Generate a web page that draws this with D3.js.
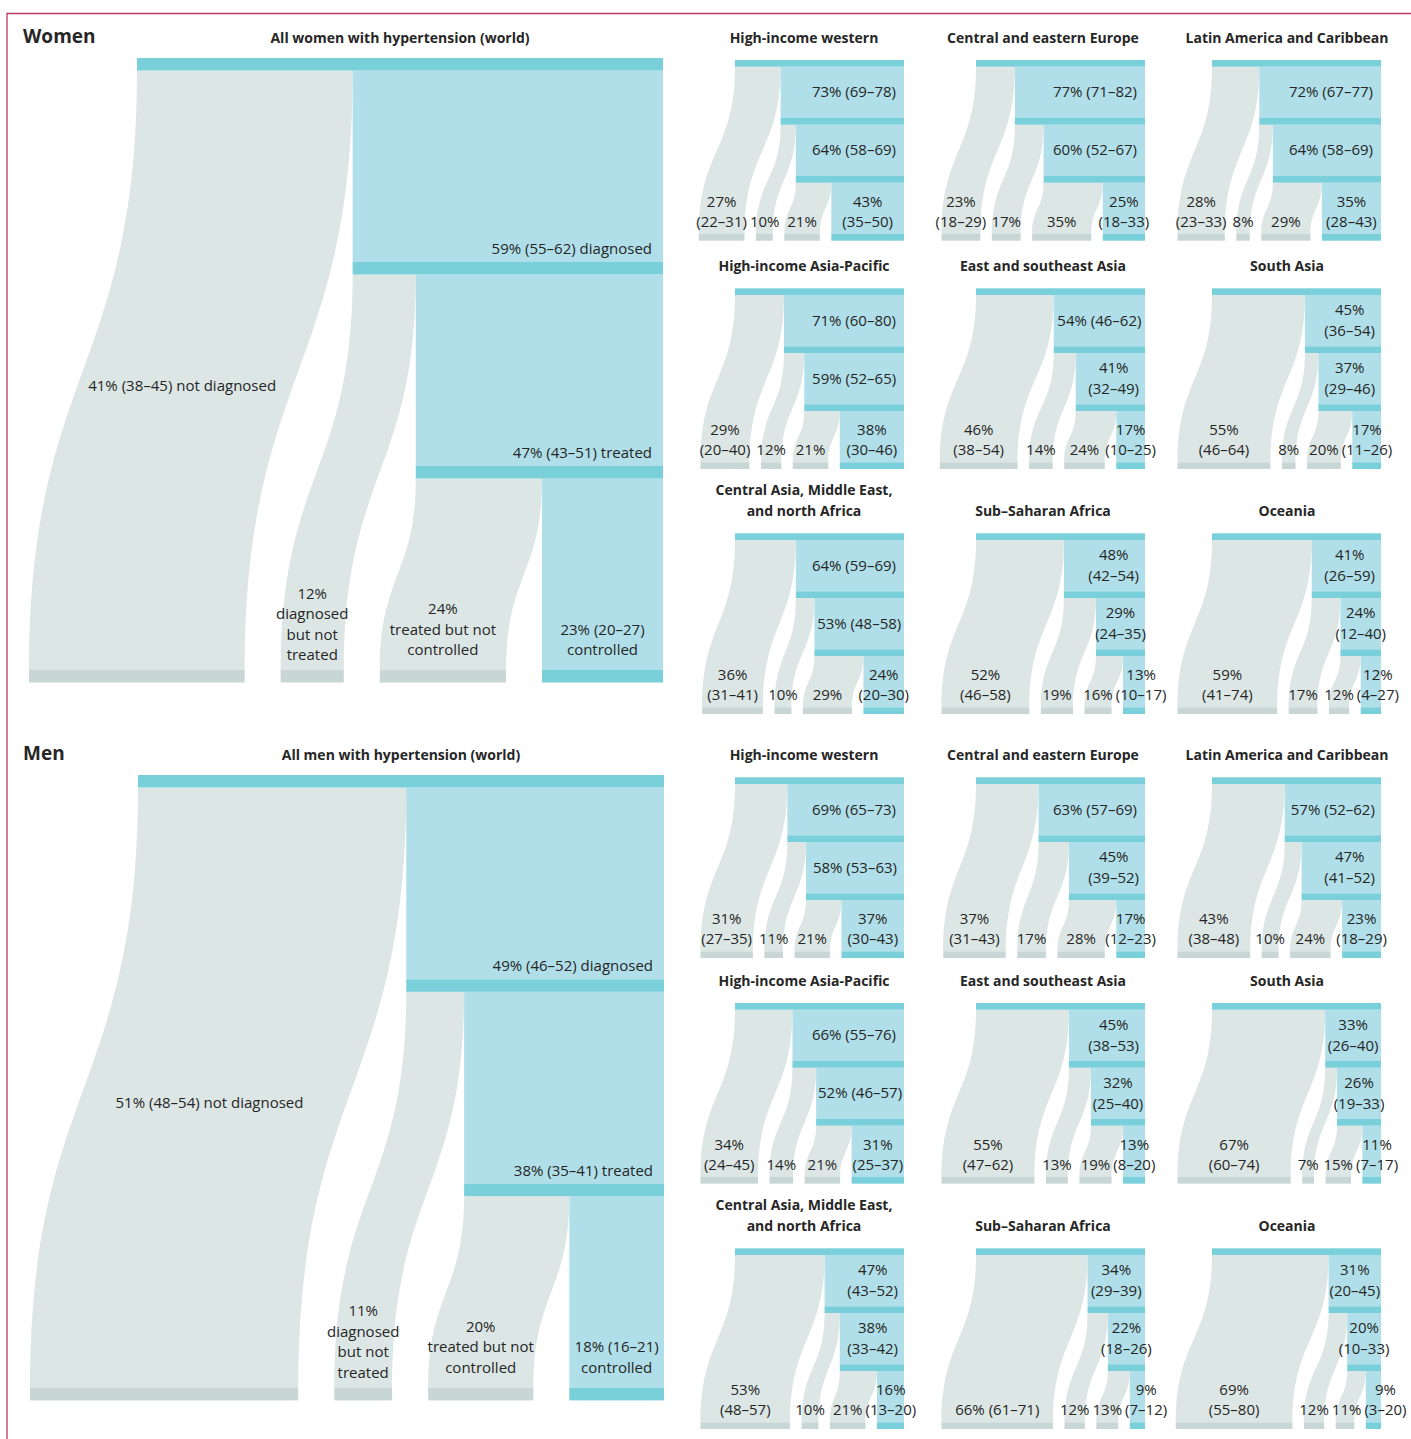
<!DOCTYPE html>
<html>
<head>
<meta charset="utf-8">
<script src="https://cdn.jsdelivr.net/npm/d3@7"></script>
<style>
  body { margin: 0; background: #fff; }
  svg text { font-family: "Open Sans", "Noto Sans", sans-serif; fill: #262626; }
</style>
</head>
<body>
<svg id="chart" width="1411" height="1439"></svg>
<script>
// ---- data (percent of people with hypertension) ----
const sexes = ['Women', 'Men'];

// world panels, [women, men]
const worldNotDiag = [41, 51];
const worldNotDiagCI = ['38–45', '48–54'];
const worldDiag = [59, 49];
const worldDiagCI = ['55–62', '46–52'];
const worldNotTreated = [12, 11];
const worldTreated = [47, 38];
const worldTreatedCI = ['43–51', '35–41'];
const worldNotControlled = [24, 20];
const worldControlled = [23, 18];
const worldControlledCI = ['20–27', '16–21'];

// regions, read row by row
const regionTitles = [
  ['High-income western'], ['Central and eastern Europe'], ['Latin America and Caribbean'],
  ['High-income Asia-Pacific'], ['East and southeast Asia'], ['South Asia'],
  ['Central Asia, Middle East,', 'and north Africa'], ['Sub–Saharan Africa'], ['Oceania']
];

const womenNotDiag = [27, 23, 28, 29, 46, 55, 36, 52, 59];
const womenNotDiagCI = ['22–31', '18–29', '23–33', '20–40', '38–54', '46–64', '31–41', '46–58', '41–74'];
const womenDiag = [73, 77, 72, 71, 54, 45, 64, 48, 41];
const womenDiagCI = ['69–78', '71–82', '67–77', '60–80', '46–62', '36–54', '59–69', '42–54', '26–59'];
const womenNotTreated = [10, 17, 8, 12, 14, 8, 10, 19, 17];
const womenTreated = [64, 60, 64, 59, 41, 37, 53, 29, 24];
const womenTreatedCI = ['58–69', '52–67', '58–69', '52–65', '32–49', '29–46', '48–58', '24–35', '12–40'];
const womenNotControlled = [21, 35, 29, 21, 24, 20, 29, 16, 12];
const womenControlled = [43, 25, 35, 38, 17, 17, 24, 13, 12];
const womenControlledCI = ['35–50', '18–33', '28–43', '30–46', '10–25', '11–26', '20–30', '10–17', '4–27'];

const menNotDiag = [31, 37, 43, 34, 55, 67, 53, 66, 69];
const menNotDiagCI = ['27–35', '31–43', '38–48', '24–45', '47–62', '60–74', '48–57', '61–71', '55–80'];
const menDiag = [69, 63, 57, 66, 45, 33, 47, 34, 31];
const menDiagCI = ['65–73', '57–69', '52–62', '55–76', '38–53', '26–40', '43–52', '29–39', '20–45'];
const menNotTreated = [11, 17, 10, 14, 13, 7, 10, 12, 12];
const menTreated = [58, 45, 47, 52, 32, 26, 38, 22, 20];
const menTreatedCI = ['53–63', '39–52', '41–52', '46–57', '25–40', '19–33', '33–42', '18–26', '10–33'];
const menNotControlled = [21, 28, 24, 21, 19, 15, 21, 13, 11];
const menControlled = [37, 17, 23, 31, 13, 11, 16, 9, 9];
const menControlledCI = ['30–43', '12–23', '18–29', '25–37', '8–20', '7–17', '13–20', '7–12', '3–20'];

// the one "not diagnosed" label the original sets on a single line
const oneLineNotDiag = ['Men|Sub–Saharan Africa'];

// ---- drawing ----
const TEAL = '#79cfda', BLUE = '#b0dfe9', GREY = '#dce6e5', GREY_BAR = '#c8d7d5';
const svg = d3.select('#chart');

// frame (top and left rule)
svg.append('path')
  .attr('d', 'M7,1439 V13.5 H1411')
  .attr('fill', 'none')
  .attr('stroke', '#bb3a62')
  .attr('stroke-width', 1.3);

function flowPath(f) {
  const ym = (f.yt + f.yb) / 2;
  return `M${f.t0},${f.yt} L${f.t1},${f.yt} C${f.t1},${ym} ${f.b1},${ym} ${f.b1},${f.yb}` +
    ` L${f.b0},${f.yb} C${f.b0},${ym} ${f.t0},${ym} ${f.t0},${f.yt} Z`;
}

function textLines(g, lines, cx, lastBase, lh, anchor) {
  const n = lines.length;
  lines.forEach((s, i) => {
    g.append('text')
      .attr('x', cx)
      .attr('y', lastBase - (n - 1 - i) * lh)
      .attr('text-anchor', anchor || 'middle')
      .attr('font-size', 15)
      .text(s);
  });
}

function measure(s) {
  const t = svg.append('text').attr('font-size', 15).text(s);
  const w = t.node().getComputedTextLength();
  t.remove();
  return w;
}

function drawPanel(p, o) {
  const x = d3.scaleLinear().domain([0, 100]).range([o.x0, o.x1]);
  const w = v => x(v) - x(0);
  const y = d3.scaleLinear().domain([0, 3]).range([o.y0, o.y0 + 3 * o.L]);
  const g = svg.append('g');
  const yb = y(3);

  // bottom bars, packed to the right
  const cL = x(100 - p.c), cR = x(100);
  const ncR = cL - o.gap, ncL = ncR - w(p.nc);
  const ntR = ncL - o.gap, ntL = ntR - w(p.nt);
  const ndR = ntL - o.gap, ndL = ndR - w(p.nd);

  const flows = [
    { t0: x(0), t1: x(100 - p.d), yt: y(0) + o.bh, b0: ndL, b1: ndR, yb },
    { t0: x(100 - p.d), t1: x(100 - p.t), yt: y(1) + o.bh, b0: ntL, b1: ntR, yb },
    { t0: x(100 - p.t), t1: x(100 - p.c), yt: y(2) + o.bh, b0: ncL, b1: ncR, yb }
  ];
  g.selectAll('path.flow').data(flows).join('path')
    .attr('class', 'flow')
    .attr('d', flowPath)
    .attr('fill', GREY);

  const blocks = [p.d, p.t, p.c];
  g.selectAll('rect.block').data(blocks).join('rect')
    .attr('class', 'block')
    .attr('x', v => x(100 - v))
    .attr('y', (v, i) => y(i) + o.bh)
    .attr('width', v => w(v))
    .attr('height', (v, i) => y(i + 1) - y(i) - o.bh)
    .attr('fill', BLUE);

  g.selectAll('rect.bar').data([100, p.d, p.t, p.c]).join('rect')
    .attr('class', 'bar')
    .attr('x', v => x(100 - v))
    .attr('y', (v, i) => y(i))
    .attr('width', v => w(v))
    .attr('height', o.bh)
    .attr('fill', TEAL);

  g.selectAll('rect.base').data([[ndL, ndR], [ntL, ntR], [ncL, ncR]]).join('rect')
    .attr('class', 'base')
    .attr('x', d => d[0])
    .attr('y', yb)
    .attr('width', d => d[1] - d[0])
    .attr('height', o.bh)
    .attr('fill', GREY_BAR);

  if (o.big) {
    g.append('text').attr('x', 23).attr('y', o.y0 - 15)
      .attr('font-size', 19).attr('font-weight', 700).attr('fill', '#1e1e1e')
      .text(p.sex);
    g.append('text').attr('x', (o.x0 + o.x1) / 2).attr('y', o.y0 - 15)
      .attr('text-anchor', 'middle').attr('font-size', 14).attr('font-weight', 700)
      .text(`All ${p.sex.toLowerCase()} with hypertension (world)`);

    textLines(g, [`${p.d}% (${p.dCI}) diagnosed`], x(100) - 11, y(1) - 8, 0, 'end');
    textLines(g, [`${p.t}% (${p.tCI}) treated`], x(100) - 11, y(2) - 8, 0, 'end');

    // not diagnosed label sits inside the curved flow
    const f = flows[0];
    const yc = (y(0) + yb) / 2 + 22;
    let lo = 0, hi = 1;
    for (let k = 0; k < 40; k++) {
      const t = (lo + hi) / 2;
      const yy = f.yt + (f.yb - f.yt) * (1.5 * t - 1.5 * t * t + t * t * t);
      if (yy < yc) lo = t; else hi = t;
    }
    const s = (3 * lo * lo - 2 * lo * lo * lo);
    const cx = f.t0 + (f.b0 - f.t0) * s + ((f.t1 - f.t0) + (f.b1 - f.b0)) / 4;
    textLines(g, [`${p.nd}% (${p.ndCI}) not diagnosed`], cx - 3, yc + 5, 0);

    textLines(g, [`${p.nt}%`, 'diagnosed', 'but not', 'treated'], (ntL + ntR) / 2, yb - 10, 20.5);
    textLines(g, [`${p.nc}%`, 'treated but not', 'controlled'], (ncL + ncR) / 2, yb - 15, 20.5);
    textLines(g, [`${p.c}% (${p.cCI})`, 'controlled'], (cL + cR) / 2, yb - 15, 20.5);
  } else {
    p.title.forEach((s, i) => {
      g.append('text').attr('x', o.titleX)
        .attr('y', o.y0 - 17 - (p.title.length - 1 - i) * 21)
        .attr('text-anchor', 'middle').attr('font-size', 14).attr('font-weight', 700)
        .text(s);
    });

    // labels inside the blue blocks
    [[p.d, p.dCI, 0], [p.t, p.tCI, 1]].forEach(([v, ci, i]) => {
      const rw = w(v);
      const mid = (y(i) + o.bh + y(i + 1)) / 2;
      const one = `${v}% (${ci})`;
      const tw = measure(one);
      if (tw <= rw - 1) {
        const pad = Math.min(8, (rw - tw) / 2);
        textLines(g, [one], x(100) - pad, mid + 5, 0, 'end');
      } else {
        const bw = measure(`(${ci})`);
        const pad = Math.min(6, (rw - bw) / 2);
        textLines(g, [`${v}%`, `(${ci})`], x(100) - pad - bw / 2, mid + 15.5, 21);
      }
    });

    // bottom labels, nudged right where they would run into the neighbour
    const key = p.sex + '|' + p.title.join(' ');
    const items = [
      { lines: oneLineNotDiag.includes(key) ? [`${p.nd}% (${p.ndCI})`] : [`${p.nd}%`, `(${p.ndCI})`], cx: (ndL + ndR) / 2 },
      { lines: [`${p.nt}%`], cx: (ntL + ntR) / 2 },
      { lines: [`${p.nc}%`], cx: (ncL + ncR) / 2 },
      { lines: [`${p.c}%`, `(${p.cCI})`], cx: (cL + cR) / 2 }
    ];
    items.forEach((it, i) => {
      it.w = measure(it.lines[it.lines.length - 1]);
      if (i > 0) {
        const prev = items[i - 1];
        const minLeft = prev.cx + prev.w / 2 + 3;
        if (it.cx - it.w / 2 < minLeft) it.cx = minLeft + it.w / 2;
      }
      textLines(g, it.lines, it.cx, yb - 7, 20.5);
    });
  }
}

// ---- layout ----
const bigLayout = [
  { x0: 137, x1: 663, y0: 58, L: 204, bh: 12.5, gap: 36, big: true },
  { x0: 138, x1: 664, y0: 775, L: 204.3, bh: 12.5, gap: 36, big: true }
];
const colX0 = [735, 976, 1212];
const colTitleX = [804, 1043, 1287];
const rowY0 = [[60, 288.3, 533.3], [777.3, 1003, 1248.3]];
const smallW = 169;

const regionData = [
  [womenNotDiag, womenNotDiagCI, womenDiag, womenDiagCI, womenNotTreated, womenTreated, womenTreatedCI,
    womenNotControlled, womenControlled, womenControlledCI],
  [menNotDiag, menNotDiagCI, menDiag, menDiagCI, menNotTreated, menTreated, menTreatedCI,
    menNotControlled, menControlled, menControlledCI]
];

sexes.forEach((sex, s) => {
  drawPanel({
    sex,
    nd: worldNotDiag[s], ndCI: worldNotDiagCI[s],
    d: worldDiag[s], dCI: worldDiagCI[s],
    nt: worldNotTreated[s],
    t: worldTreated[s], tCI: worldTreatedCI[s],
    nc: worldNotControlled[s],
    c: worldControlled[s], cCI: worldControlledCI[s]
  }, bigLayout[s]);

  const [nd, ndCI, d, dCI, nt, t, tCI, nc, c, cCI] = regionData[s];
  regionTitles.forEach((title, i) => {
    const col = i % 3, row = Math.floor(i / 3);
    drawPanel({
      sex, title,
      nd: nd[i], ndCI: ndCI[i], d: d[i], dCI: dCI[i], nt: nt[i],
      t: t[i], tCI: tCI[i], nc: nc[i], c: c[i], cCI: cCI[i]
    }, {
      x0: colX0[col], x1: colX0[col] + smallW, y0: rowY0[s][row],
      L: 58, bh: 6.7, gap: 11.5, big: false, titleX: colTitleX[col]
    });
  });
});
</script>
</body>
</html>
